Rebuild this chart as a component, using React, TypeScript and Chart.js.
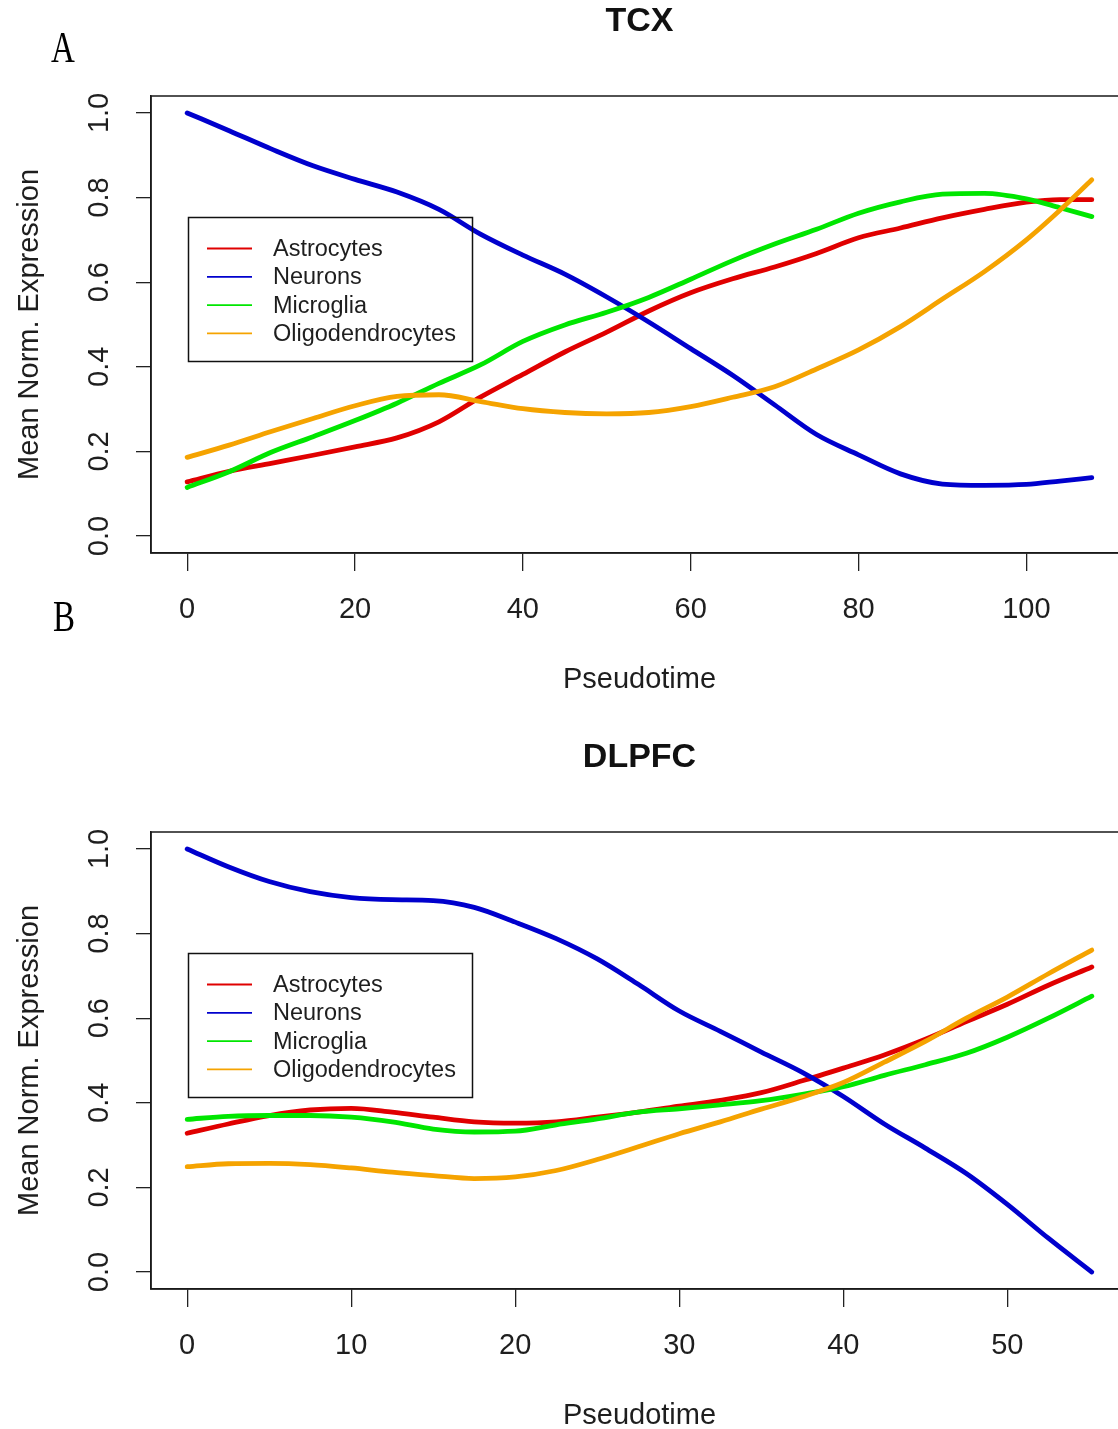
import React, { useEffect, useRef } from 'react';
import { Chart, registerables } from 'chart.js';

Chart.register(...registerables);

// ---------- data ----------
const seriesNames = ['Astrocytes', 'Neurons', 'Microglia', 'Oligodendrocytes'];

const yTickValues = [0, 0.2, 0.4, 0.6, 0.8, 1.0];

const tcxTitle = 'TCX';
const tcxXTickValues = [0, 20, 40, 60, 80, 100];
const tcxTime = [0, 5, 10, 15, 20, 25, 30, 35, 40, 45, 50, 55, 60, 65, 70, 75, 80, 85, 90, 95, 100, 104, 107.8];
const tcxAstrocytes = [0.128, 0.153, 0.172, 0.191, 0.211, 0.232, 0.27, 0.329, 0.382, 0.435, 0.482, 0.532, 0.575, 0.608, 0.636, 0.668, 0.705, 0.728, 0.752, 0.772, 0.789, 0.795, 0.795];
const tcxNeurons = [1.0, 0.958, 0.915, 0.875, 0.843, 0.813, 0.772, 0.713, 0.664, 0.619, 0.565, 0.506, 0.443, 0.38, 0.31, 0.24, 0.192, 0.147, 0.123, 0.12, 0.122, 0.13, 0.138];
const tcxMicroglia = [0.115, 0.152, 0.198, 0.235, 0.273, 0.314, 0.361, 0.405, 0.46, 0.499, 0.529, 0.564, 0.607, 0.651, 0.69, 0.725, 0.763, 0.79, 0.808, 0.81, 0.797, 0.776, 0.755];
const tcxOligodendrocytes = [0.186, 0.215, 0.247, 0.278, 0.308, 0.33, 0.334, 0.318, 0.301, 0.292, 0.289, 0.292, 0.306, 0.328, 0.353, 0.395, 0.44, 0.495, 0.56, 0.625, 0.7, 0.77, 0.842];

const dlpfcTitle = 'DLPFC';
const dlpfcXTickValues = [0, 10, 20, 30, 40, 50];
const dlpfcTime = [0, 2.5, 5, 7.5, 10, 12.5, 15, 17.5, 20, 22.5, 25, 27.5, 30, 32.5, 35, 37.5, 40, 42.5, 45, 47.5, 50, 52.5, 55.15];
const dlpfcAstrocytes = [0.328, 0.35, 0.37, 0.383, 0.387, 0.378, 0.366, 0.355, 0.352, 0.355, 0.366, 0.378, 0.392, 0.406, 0.424, 0.452, 0.482, 0.513, 0.55, 0.592, 0.633, 0.678, 0.721];
const dlpfcNeurons = [1.0, 0.958, 0.923, 0.899, 0.885, 0.88, 0.878, 0.862, 0.827, 0.788, 0.74, 0.68, 0.617, 0.569, 0.52, 0.472, 0.415, 0.35, 0.293, 0.233, 0.16, 0.08, 0.0];
const dlpfcMicroglia = [0.361, 0.368, 0.37, 0.37, 0.366, 0.355, 0.338, 0.331, 0.333, 0.348, 0.362, 0.378, 0.386, 0.395, 0.405, 0.42, 0.438, 0.465, 0.49, 0.517, 0.555, 0.6, 0.652];
const dlpfcOligodendrocytes = [0.249, 0.256, 0.257, 0.254, 0.246, 0.236, 0.228, 0.221, 0.225, 0.24, 0.266, 0.296, 0.327, 0.355, 0.385, 0.414, 0.448, 0.496, 0.545, 0.6, 0.65, 0.705, 0.761];

// ---------- style ----------
const seriesColors = ['#E00000', '#0000CD', '#00E600', '#F5A300'];
const FONT = '"Liberation Sans", Arial, sans-serif';
const TEXT = '#1e1e1e';
const CANVAS_W = 1130;
const CANVAS_H = 700;
const PLOT_TOP = 96;
const PLOT_BOTTOM = 553;
const PLOT_LEFT = 151;

const decorPlugin = {
  id: 'panelDecor',
  afterDraw(chart: any, _args: any, opts: any) {
    const { ctx, chartArea } = chart;
    const { left, top, right, bottom } = chartArea;
    ctx.save();
    // plot box
    ctx.strokeStyle = '#1a1a1a';
    ctx.lineWidth = 1.5;
    ctx.strokeRect(left, top, right - left, bottom - top);
    // title
    ctx.fillStyle = '#111';
    ctx.font = `bold 34px ${FONT}`;
    ctx.textAlign = 'center';
    ctx.textBaseline = 'middle';
    ctx.fillText(opts.title, (left + right) / 2, 22);
    // legend
    const bx = 188.5, by = 217.5, bw = 284, bh = 144;
    ctx.lineWidth = 1.5;
    ctx.strokeStyle = '#111';
    ctx.strokeRect(bx, by, bw, bh);
    ctx.font = `23.5px ${FONT}`;
    ctx.textAlign = 'left';
    chart.data.datasets.forEach((ds: any, i: number) => {
      const y = 248.5 + i * 28.3;
      ctx.strokeStyle = ds.borderColor;
      ctx.lineWidth = 1.8;
      ctx.beginPath();
      ctx.moveTo(207, y);
      ctx.lineTo(252, y);
      ctx.stroke();
      ctx.fillStyle = TEXT;
      ctx.fillText(ds.label, 273, y + 1);
    });
    ctx.restore();
  },
};

function buildConfig(title: string, time: number[], series: number[][], xTicks: number[]): any {
  const t0 = time[0];
  const t1 = time[time.length - 1];
  const ext = 0.04 * (t1 - t0);
  return {
    type: 'line',
    data: {
      datasets: series.map((vals, i) => ({
        label: seriesNames[i],
        data: time.map((t, j) => ({ x: t, y: vals[j] })),
        borderColor: seriesColors[i],
        backgroundColor: seriesColors[i],
        borderWidth: 4.8,
        pointRadius: 0,
        pointHoverRadius: 0,
        fill: false,
        cubicInterpolationMode: 'monotone',
        borderCapStyle: 'round',
        borderJoinStyle: 'round',
        order: series.length - 1 - i,
      })),
    },
    options: {
      responsive: false,
      animation: false,
      events: [],
      layout: { padding: { top: PLOT_TOP, right: 2, left: 0, bottom: 0 } },
      plugins: {
        legend: { display: false },
        tooltip: { enabled: false },
        title: { display: false },
        panelDecor: { title },
      },
      scales: {
        x: {
          type: 'linear',
          min: t0 - ext,
          max: t1 + ext,
          afterBuildTicks: (axis: any) => {
            axis.ticks = xTicks.map((v) => ({ value: v }));
          },
          afterFit: (axis: any) => {
            axis.height = CANVAS_H - PLOT_BOTTOM;
          },
          grid: { drawOnChartArea: false, drawTicks: true, tickLength: 18, color: '#222', lineWidth: 1.3 },
          border: { display: true, color: '#1a1a1a', width: 1.5 },
          ticks: {
            font: { family: FONT, size: 29 },
            color: TEXT,
            padding: 21.5,
            maxRotation: 0,
            minRotation: 0,
            autoSkip: false,
            callback: (v: any) => String(v),
          },
          title: {
            display: true,
            text: 'Pseudotime',
            font: { family: FONT, size: 29 },
            color: TEXT,
            padding: { top: 0, bottom: 3 },
          },
        },
        y: {
          type: 'linear',
          min: -0.04,
          max: 1.04,
          afterBuildTicks: (axis: any) => {
            axis.ticks = yTickValues.map((v) => ({ value: v }));
          },
          afterFit: (axis: any) => {
            axis.width = PLOT_LEFT;
          },
          grid: { drawOnChartArea: false, drawTicks: true, tickLength: 15, color: '#222', lineWidth: 1.3 },
          border: { display: true, color: '#1a1a1a', width: 1.5 },
          ticks: {
            font: { family: FONT, size: 29 },
            color: TEXT,
            padding: 15.5,
            minRotation: 90,
            maxRotation: 90,
            crossAlign: 'center',
            autoSkip: false,
            callback: (v: any) => Number(v).toFixed(1),
          },
          title: {
            display: true,
            text: 'Mean Norm. Expression',
            font: { family: FONT, size: 29 },
            color: TEXT,
            padding: { top: 12.6, bottom: 0 },
          },
        },
      },
    },
    plugins: [decorPlugin],
  };
}

function Panel({ top, makeConfig }: { top: number; makeConfig: () => any }) {
  const ref = useRef<HTMLCanvasElement | null>(null);
  useEffect(() => {
    if (!ref.current) return;
    const chart = new Chart(ref.current, makeConfig());
    return () => chart.destroy();
  }, []);
  return (
    <canvas
      ref={ref}
      width={CANVAS_W}
      height={CANVAS_H}
      style={{ position: 'absolute', left: 0, top, width: CANVAS_W, height: CANVAS_H, display: 'block' }}
    />
  );
}

const letterStyle: React.CSSProperties = {
  position: 'absolute',
  fontFamily: '"Liberation Serif", "Times New Roman", serif',
  fontSize: 44,
  lineHeight: '44px',
  color: '#000',
  transform: 'scaleX(0.75)',
  transformOrigin: 'left top',
  margin: 0,
};

export default function App() {
  return (
    <div
      style={{
        position: 'absolute',
        left: 0,
        top: 0,
        width: 1118,
        height: 1429,
        overflow: 'hidden',
        background: '#fff',
      }}
    >
      <Panel
        top={0}
        makeConfig={() =>
          buildConfig(tcxTitle, tcxTime, [tcxAstrocytes, tcxNeurons, tcxMicroglia, tcxOligodendrocytes], tcxXTickValues)
        }
      />
      <Panel
        top={736}
        makeConfig={() =>
          buildConfig(dlpfcTitle, dlpfcTime, [dlpfcAstrocytes, dlpfcNeurons, dlpfcMicroglia, dlpfcOligodendrocytes], dlpfcXTickValues)
        }
      />
      <div style={{ ...letterStyle, left: 51, top: 26 }}>A</div>
      <div style={{ ...letterStyle, left: 52.5, top: 595 }}>B</div>
    </div>
  );
}
